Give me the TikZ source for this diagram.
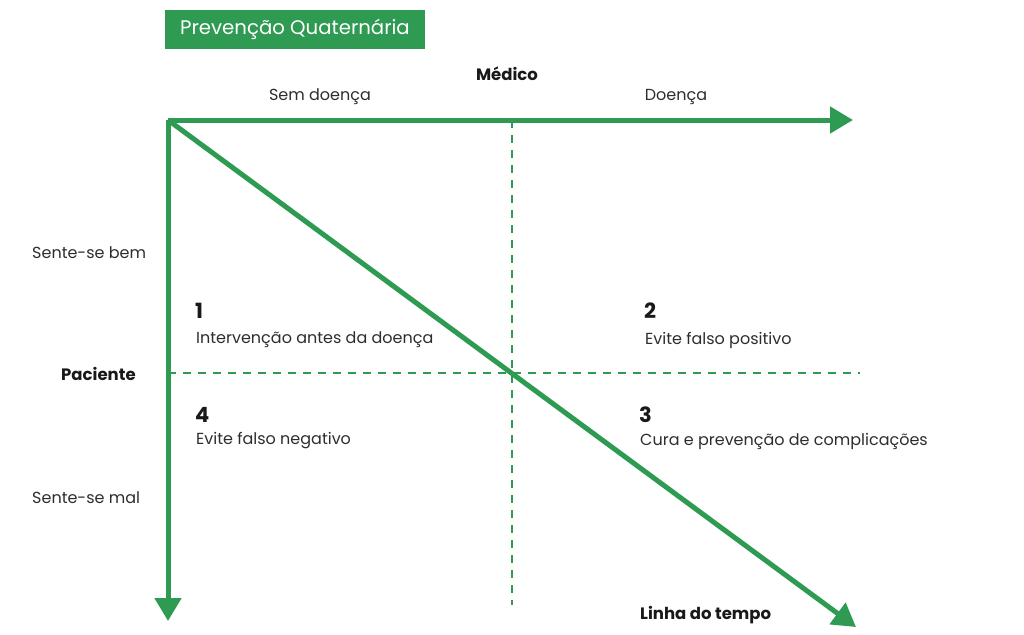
\documentclass[tikz,border=0pt]{standalone}
\usepackage{fontspec}
\setmainfont{Poppins}
\usetikzlibrary{arrows.meta}
\definecolor{grn}{RGB}{46,154,82}
\definecolor{txt}{RGB}{45,45,45}
\definecolor{dark}{RGB}{25,25,25}
\begin{document}
\begin{tikzpicture}[x=1pt,y=-1pt,
  axis/.style={grn,line width=5pt,-{Triangle[width=26pt,length=23pt]}},
  guide/.style={grn,line width=1.5pt,dash pattern=on 8pt off 7pt},
  lbl/.style={inner sep=0pt,text=txt,font=\fontsize{16}{19}\selectfont},
  blbl/.style={inner sep=0pt,text=dark,font=\fontsize{16.5}{19}\selectfont\bfseries},
  num/.style={inner sep=0pt,text=dark,font=\fontsize{21}{24}\selectfont\bfseries},
  titlebox/.style={fill=grn,text=white,inner sep=0pt,minimum width=260pt,minimum height=39pt,font=\fontsize{19.7}{24}\selectfont}]
\useasboundingbox (0,0) rectangle (1024,634);
\coordinate (O) at (168,120);
\coordinate (H) at (853,120);
\coordinate (V) at (168,621);
\coordinate (D) at (856,627);
\coordinate (vt) at (512,120);
\coordinate (vb) at (512,605);
\coordinate (hl) at (168,373);
\coordinate (hr) at (860,373);
\draw[guide] (vt) -- (vb);
\draw[guide] (hl) -- (hr);
\draw[axis] (O) -- (H);
\draw[axis] (O) -- (V);
\draw[axis,shorten <=2pt] (O) -- (D);
\node[titlebox] (title) at (295,29.5) {Prevenção Quaternária};
\node[blbl] (medico) at (507,74) {Médico};
\node[lbl] (sem) at (320,97) {Sem doença};
\node[lbl] (doenca) at (676,97) {Doença};
\node[lbl,anchor=west] (bem) at (32,253) {Sente-se bem};
\node[blbl,anchor=west] (pac) at (61,374) {Paciente};
\node[lbl,anchor=west] (mal) at (32,498) {Sente-se mal};
\node[num,anchor=west] (n1) at (195,311) {1};
\node[lbl,anchor=west] (t1) at (196,340) {Intervenção antes da doença};
\node[num,anchor=west] (n2) at (644,311) {2};
\node[lbl,anchor=west] (t2) at (645,340) {Evite falso positivo};
\node[num,anchor=west] (n4) at (195,415) {4};
\node[lbl,anchor=west] (t4) at (196,441) {Evite falso negativo};
\node[num,anchor=west] (n3) at (639,415) {3};
\node[lbl,anchor=west] (t3) at (640,441) {Cura e prevenção de complicações};
\node[blbl,anchor=west] (tempo) at (640,615) {Linha do tempo};
\end{tikzpicture}
\end{document}
